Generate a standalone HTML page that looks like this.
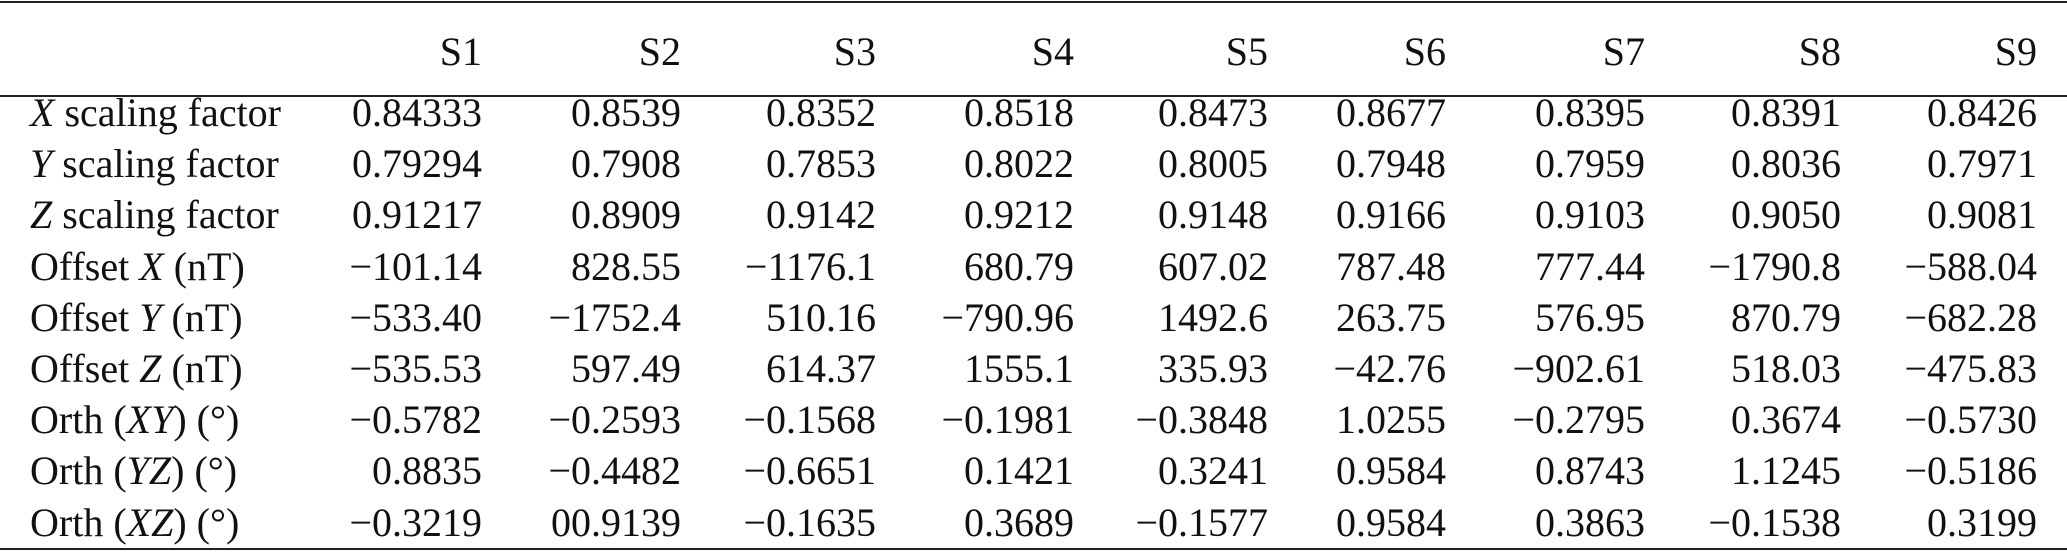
<!DOCTYPE html>
<html><head><meta charset="utf-8"><style>
html,body{margin:0;padding:0;background:#fff;}
body{width:2067px;height:552px;position:relative;overflow:hidden;font-family:"Liberation Serif",serif;font-size:40px;color:#111;}
.rule{position:absolute;left:0;width:2067px;background:#222;}
.c{position:absolute;white-space:nowrap;line-height:1;}
.r{text-align:right;}
i{font-style:italic;}
</style></head><body>
<div class="rule" style="top:1px;height:2px"></div>
<div class="rule" style="top:95px;height:2px"></div>
<div class="rule" style="top:548px;height:2px"></div>
<div id="t"></div>
<script>
var rights=[482,681,876,1074,1268,1446,1645,1841,2037];
var hdr=["S1","S2","S3","S4","S5","S6","S7","S8","S9"];
var rows=[
["<i>X</i> scaling factor","0.84333","0.8539","0.8352","0.8518","0.8473","0.8677","0.8395","0.8391","0.8426"],
["<i>Y</i> scaling factor","0.79294","0.7908","0.7853","0.8022","0.8005","0.7948","0.7959","0.8036","0.7971"],
["<i>Z</i> scaling factor","0.91217","0.8909","0.9142","0.9212","0.9148","0.9166","0.9103","0.9050","0.9081"],
["Offset <i>X</i> (nT)","−101.14","828.55","−1176.1","680.79","607.02","787.48","777.44","−1790.8","−588.04"],
["Offset <i>Y</i> (nT)","−533.40","−1752.4","510.16","−790.96","1492.6","263.75","576.95","870.79","−682.28"],
["Offset <i>Z</i> (nT)","−535.53","597.49","614.37","1555.1","335.93","−42.76","−902.61","518.03","−475.83"],
["Orth (<i>XY</i>) (°)","−0.5782","−0.2593","−0.1568","−0.1981","−0.3848","1.0255","−0.2795","0.3674","−0.5730"],
["Orth (<i>YZ</i>) (°)","0.8835","−0.4482","−0.6651","0.1421","0.3241","0.9584","0.8743","1.1245","−0.5186"],
["Orth (<i>XZ</i>) (°)","−0.3219","00.9139","−0.1635","0.3689","−0.1577","0.9584","0.3863","−0.1538","0.3199"]];
var h="";
function cell(txt,right,cy){return '<div class="c r" style="right:'+(2067-right)+'px;top:'+(cy-20)+'px">'+txt+'</div>';}
for(var j=0;j<9;j++)h+=cell(hdr[j],rights[j],52);
for(var i=0;i<rows.length;i++){var cy=113+i*51.2;
h+='<div class="c" style="left:30px;top:'+(cy-20)+'px">'+rows[i][0]+'</div>';
for(var j=0;j<9;j++)h+=cell(rows[i][j+1],rights[j],cy);}
document.getElementById("t").innerHTML=h;
</script>
</body></html>
